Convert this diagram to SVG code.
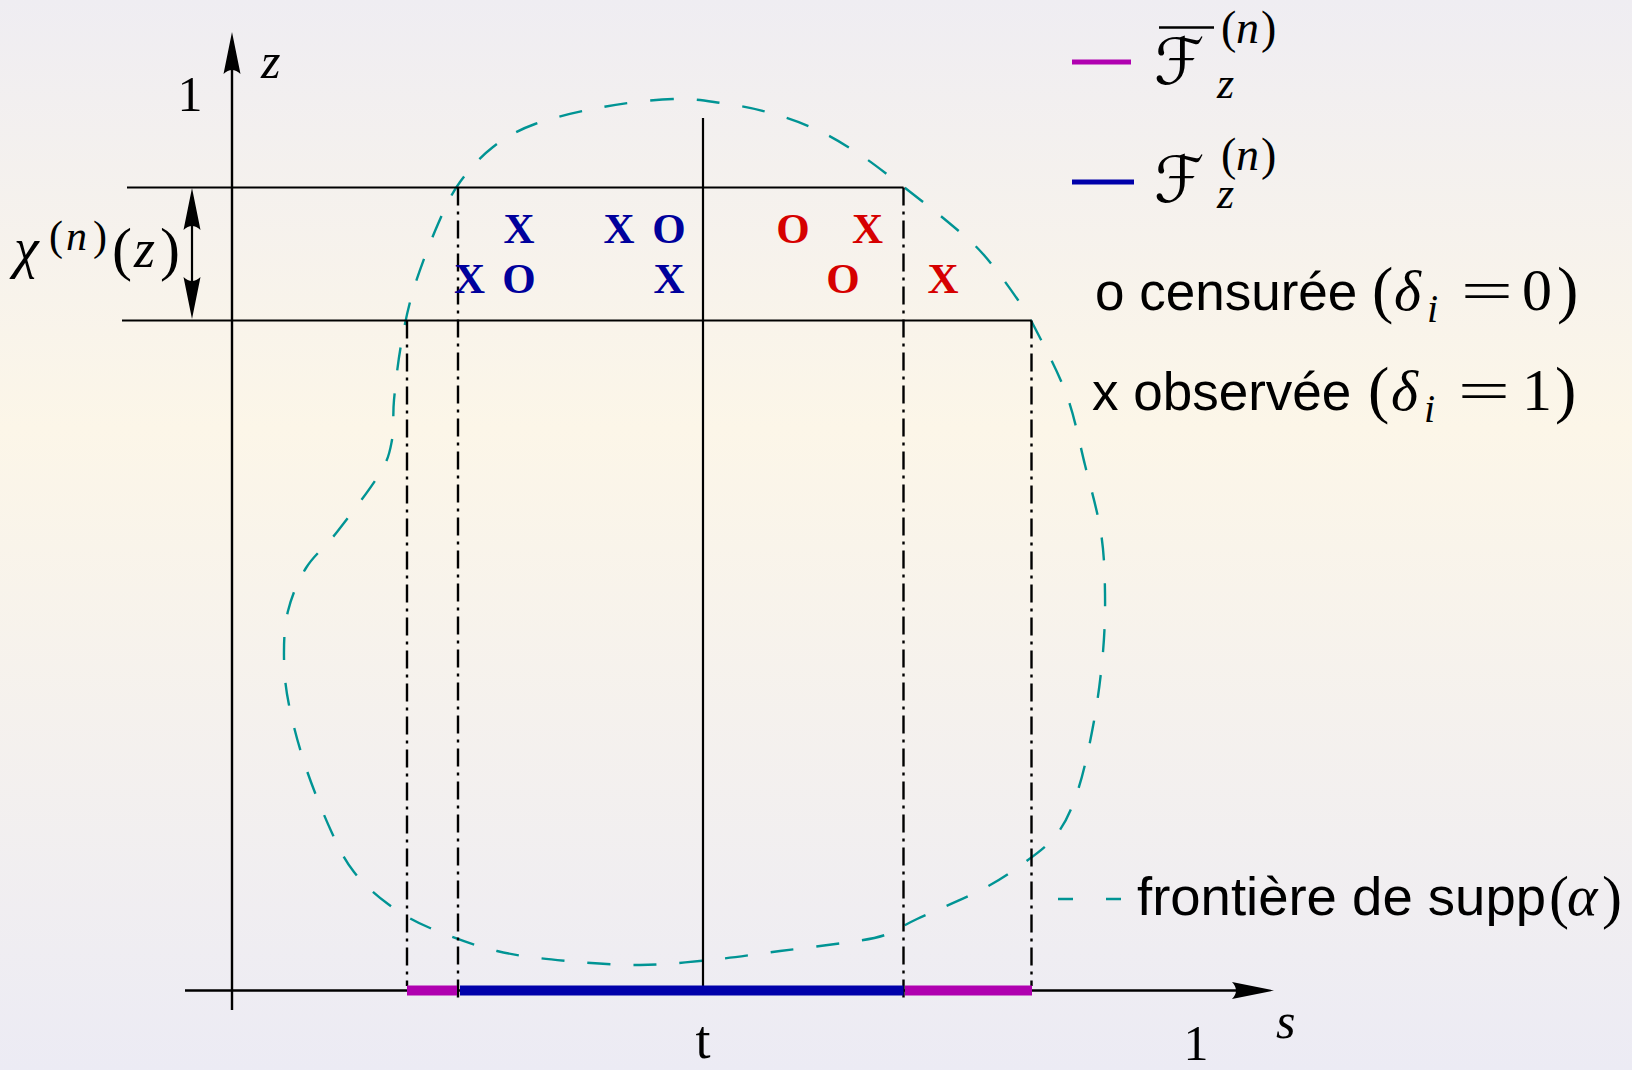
<svg xmlns="http://www.w3.org/2000/svg" xmlns:xlink="http://www.w3.org/1999/xlink" width="1632" height="1070" viewBox="0 0 1632 1070">
<defs>
<linearGradient id="bg" x1="0" y1="0" x2="0" y2="1">
<stop offset="0" stop-color="#efedf2"/>
<stop offset="0.4" stop-color="#fcf6e8"/>
<stop offset="1" stop-color="#ecebf4"/>
</linearGradient>
<path id="ah" d="M0,0 L-42,-8.5 Q-34,0 -42,8.5 Z" fill="#000"/>
<style>
.ax{stroke:#000;stroke-width:2.4;fill:none}
.ln{stroke:#000;stroke-width:2.2;fill:none}
.dd{stroke:#000;stroke-width:2.4;stroke-dasharray:18 6 3 6;fill:none}
.bd{stroke:#009494;stroke-width:2.4;fill:none;stroke-dasharray:23 23}
.mi{font-family:"Liberation Serif",serif;font-style:italic}
.mr{font-family:"Liberation Serif",serif}
.eq{font-family:"Liberation Serif",serif;font-size:58px;text-anchor:middle}
.sans{font-family:"Liberation Sans",Arial,sans-serif}
.pt{font-family:"Liberation Serif",serif;font-size:43px;font-weight:bold;text-anchor:middle}
.bl{fill:#00009c}
.rd{fill:#d60000}
.cal{font-family:"DejaVu Sans","DejaVu Serif","Noto Sans CJK SC",serif;font-style:italic}
</style>
</defs>
<rect width="1632" height="1070" fill="url(#bg)"/>

<g id="frontier">
<path class="bd" d="M673,99 C653.3,99.7 626,102.8 603,107 S553.3,117.3 535,124 S505.5,137.3 493,147 S469.2,169.2 460,182 S445.7,206.3 438,224 S420.2,267.8 414,288 S404.3,326.3 401,345 S395.5,384.2 394,400 S394.3,427.8 392,440 S389.2,457.7 380,473 S349.3,516.2 337,532 S314.2,554.8 306,568 S291.7,596 288,611 S283.8,642.3 284,658 S285.3,686.7 289,705 S298.8,746.7 306,768 S324,815.7 332,833 S344.7,860.2 354,872 S375.3,894.7 388,904 S411.8,920.2 430,928 S474.2,945.5 497,951 S543.2,958.7 567,961 S616.2,965.2 640,965 S686.7,962.3 710,960 S756.7,954 780,951 S832.5,944.7 850,942 S873.8,938.8 885,935 S901,926.5 917,919 S963.7,899 981,890 S1008.3,874.3 1021,865 S1047.5,846.5 1057,834 S1071.8,808.8 1078,790 S1089.8,744 1094,721 S1101.2,673.3 1103,652 S1105.3,612.8 1105,593 S1104.3,554.3 1101,533 S1090.7,487.8 1085,465 S1075,418.2 1067,396 S1045.2,348 1037,332 S1027,313 1018,300 S994.7,267 983,254 S963.2,234.7 948,222 S907.8,190 892,178 S866.2,158.3 853,150 S827.3,134.3 813,128 S782.3,116.2 767,112 S736.7,105.2 721,103 S692.7,98.3 673,99 Z"/>
</g>

<g id="connectors">
<line class="ln" x1="127" y1="187.5" x2="903.5" y2="187.5"/>
<line class="ln" x1="122" y1="320.5" x2="1031.5" y2="320.5"/>
<line class="ln" x1="703" y1="118" x2="703" y2="990"/>
<line class="dd" x1="458" y1="187.5" x2="458" y2="1000"/>
<line class="dd" x1="903.5" y1="187.5" x2="903.5" y2="1000"/>
<line class="dd" x1="407" y1="320.5" x2="407" y2="986"/>
<line class="dd" x1="1031.5" y1="320.5" x2="1031.5" y2="986"/>
<line class="ln" x1="192" y1="200" x2="192" y2="308"/>
<use xlink:href="#ah" transform="translate(192,188) rotate(-90)"/>
<use xlink:href="#ah" transform="translate(192,319) rotate(90)"/>
</g>

<g id="axes">
<line class="ax" x1="232" y1="50" x2="232" y2="1010"/>
<use xlink:href="#ah" transform="translate(232,32) rotate(-90)"/>
<line class="ax" x1="185" y1="990.5" x2="1250" y2="990.5"/>
<use xlink:href="#ah" transform="translate(1274,990.5)"/>
</g>

<g id="bars">
<rect x="407" y="985.5" width="50" height="10" fill="#b000b0"/>
<rect x="460" y="985.5" width="443.5" height="10" fill="#0000aa"/>
<rect x="905" y="985.5" width="127" height="10" fill="#b000b0"/>
</g>

<g id="points">
<text class="pt bl" x="519" y="243.3">X</text>
<text class="pt bl" x="619" y="243.3">X</text>
<text class="pt bl" x="669" y="243.3">O</text>
<text class="pt rd" x="793" y="243.3">O</text>
<text class="pt rd" x="867.5" y="243.3">X</text>
<text class="pt bl" x="469.5" y="292.5">X</text>
<text class="pt bl" x="519" y="292.5">O</text>
<text class="pt bl" x="669" y="292.5">X</text>
<text class="pt rd" x="843" y="292.5">O</text>
<text class="pt rd" x="943" y="292.5">X</text>
</g>

<g id="axis-labels">
<text class="mi" x="261" y="78" font-size="50">z</text>
<text class="mr" x="190" y="111" font-size="50" text-anchor="middle">1</text>
<text class="mi" x="1276" y="1038" font-size="50">s</text>
<text class="mr" x="1196" y="1060" font-size="50" text-anchor="middle">1</text>
<text class="mr" x="703" y="1058" font-size="54" text-anchor="middle">t</text>
</g>

<g id="chi-label">
<text><tspan class="mi" x="14" y="267" font-size="56">χ</tspan><tspan class="mr" x="49" y="250" font-size="42">(</tspan><tspan class="mi" x="66" y="250" font-size="42">n</tspan><tspan class="mr" x="93" y="250" font-size="42">)</tspan><tspan class="mr" x="112" y="269" font-size="60">(</tspan><tspan class="mi" x="134" y="267" font-size="54">z</tspan><tspan class="mr" x="160" y="269" font-size="60">)</tspan></text>
</g>

<g id="legend-fbar">
<line x1="1072" y1="62" x2="1131" y2="62" stroke="#b000b0" stroke-width="5"/>
<line x1="1159" y1="27.5" x2="1214" y2="27.5" stroke="#000" stroke-width="2.5"/>
<text class="cal" x="1154" y="84" font-size="64">ℱ</text>
<text><tspan class="mr" x="1221" y="43" font-size="46">(</tspan><tspan class="mi" x="1236" y="43" font-size="46">n</tspan><tspan class="mr" x="1261" y="43" font-size="46">)</tspan></text>
<text class="mi" x="1217" y="98" font-size="44">z</text>
</g>

<g id="legend-f">
<line x1="1072" y1="182" x2="1134" y2="182" stroke="#0000aa" stroke-width="5"/>
<text class="cal" x="1154" y="202" font-size="64">ℱ</text>
<text><tspan class="mr" x="1221" y="170" font-size="46">(</tspan><tspan class="mi" x="1236" y="170" font-size="46">n</tspan><tspan class="mr" x="1261" y="170" font-size="46">)</tspan></text>
<text class="mi" x="1217" y="208" font-size="44">z</text>
</g>

<g id="legend-censored">
<text><tspan class="sans" x="1095" y="310" font-size="53">o censurée</tspan><tspan class="mr" x="1372" y="311" font-size="64">(</tspan><tspan class="mi" x="1394" y="310" font-size="58">δ</tspan><tspan class="mi" x="1427" y="322" font-size="40">i</tspan></text>
<text class="eq" transform="translate(1487,310) scale(1.6,1)">=</text>
<text><tspan class="mr" x="1522" y="310" font-size="60">0</tspan><tspan class="mr" x="1557" y="311" font-size="64">)</tspan></text>
</g>

<g id="legend-observed">
<text><tspan class="sans" x="1092" y="410" font-size="53">x observée</tspan><tspan class="mr" x="1368" y="411" font-size="64">(</tspan><tspan class="mi" x="1391" y="410" font-size="58">δ</tspan><tspan class="mi" x="1424" y="422" font-size="40">i</tspan></text>
<text class="eq" transform="translate(1484,410) scale(1.6,1)">=</text>
<text><tspan class="mr" x="1522" y="410" font-size="60">1</tspan><tspan class="mr" x="1555" y="411" font-size="64">)</tspan></text>
</g>

<g id="legend-frontier">
<line x1="1058" y1="899" x2="1121" y2="899" stroke="#009494" stroke-width="2.4" stroke-dasharray="15 33"/>
<text><tspan class="sans" x="1137" y="915" font-size="54.5">frontière de supp</tspan><tspan class="mr" x="1549" y="917" font-size="60">(</tspan><tspan class="mi" x="1567" y="915" font-size="58">α</tspan><tspan class="mr" x="1602" y="917" font-size="60">)</tspan></text>
</g>
</svg>
